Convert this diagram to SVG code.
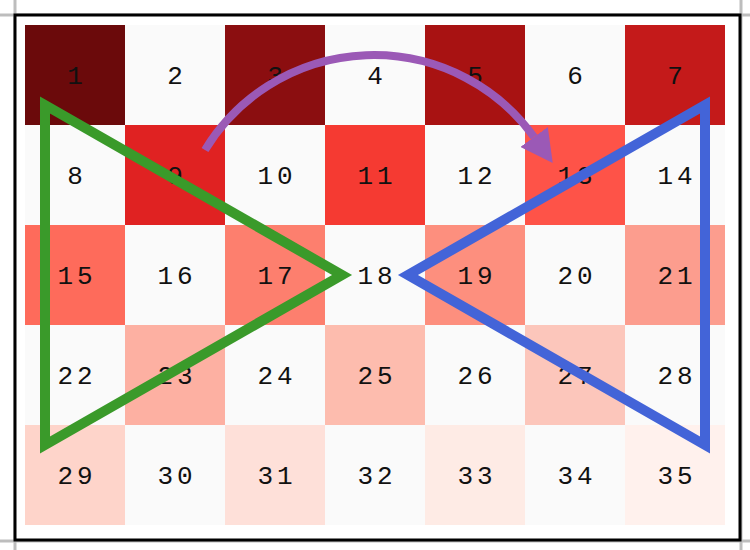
<svg xmlns="http://www.w3.org/2000/svg" width="750" height="550" viewBox="0 0 750 550">
<style>
.w{fill:#fafafa}
.t{font-family:"Liberation Mono","DejaVu Sans Mono",monospace;font-size:26px;letter-spacing:4px;fill:#111;text-anchor:middle}
.tri{fill:none;stroke-width:10;stroke-linejoin:miter;stroke-miterlimit:10}
.g{stroke:#bdbdbd;stroke-width:3}
</style>
<defs>
<marker id="ah" viewBox="0 0 32 34" refX="0" refY="17" markerWidth="32" markerHeight="34" markerUnits="userSpaceOnUse" orient="auto">
<path d="M0,0 L32,17 L0,34 Z" fill="#9b59b6"/>
</marker>
</defs>
<rect x="0" y="0" width="750" height="550" fill="#ffffff"/>
<g id="page-lines">
<line class="g" x1="15" y1="0" x2="15" y2="550"/>
<line class="g" x1="741" y1="0" x2="741" y2="550"/>
<line class="g" x1="0" y1="15" x2="750" y2="15"/>
<line class="g" x1="0" y1="541" x2="750" y2="541"/>
</g>
<rect id="frame" x="15" y="15" width="725" height="525" fill="#ffffff" stroke="#000" stroke-width="3"/>
<g id="cells">
<g id="c1"><rect x="25" y="25" width="100" height="100" fill="#6b0a0b"/><text class="t" x="77" y="84">1</text></g>
<g id="c2"><rect class="w" x="125" y="25" width="100" height="100"/><text class="t" x="177" y="84">2</text></g>
<g id="c3"><rect x="225" y="25" width="100" height="100" fill="#8b0e10"/><text class="t" x="277" y="84">3</text></g>
<g id="c4"><rect class="w" x="325" y="25" width="100" height="100"/><text class="t" x="377" y="84">4</text></g>
<g id="c5"><rect x="425" y="25" width="100" height="100" fill="#a81212"/><text class="t" x="477" y="84">5</text></g>
<g id="c6"><rect class="w" x="525" y="25" width="100" height="100"/><text class="t" x="577" y="84">6</text></g>
<g id="c7"><rect x="625" y="25" width="100" height="100" fill="#c41a1a"/><text class="t" x="677" y="84">7</text></g>

<g id="c8"><rect class="w" x="25" y="125" width="100" height="100"/><text class="t" x="77" y="184">8</text></g>
<g id="c9"><rect x="125" y="125" width="100" height="100" fill="#e02222"/><text class="t" x="177" y="184">9</text></g>
<g id="c10"><rect class="w" x="225" y="125" width="100" height="100"/><text class="t" x="277" y="184">10</text></g>
<g id="c11"><rect x="325" y="125" width="100" height="100" fill="#f53a32"/><text class="t" x="377" y="184">11</text></g>
<g id="c12"><rect class="w" x="425" y="125" width="100" height="100"/><text class="t" x="477" y="184">12</text></g>
<g id="c13"><rect x="525" y="125" width="100" height="100" fill="#fe5348"/><text class="t" x="577" y="184">13</text></g>
<g id="c14"><rect class="w" x="625" y="125" width="100" height="100"/><text class="t" x="677" y="184">14</text></g>

<g id="c15"><rect x="25" y="225" width="100" height="100" fill="#fe6b5b"/><text class="t" x="77" y="284">15</text></g>
<g id="c16"><rect class="w" x="125" y="225" width="100" height="100"/><text class="t" x="177" y="284">16</text></g>
<g id="c17"><rect x="225" y="225" width="100" height="100" fill="#fd7f6e"/><text class="t" x="277" y="284">17</text></g>
<g id="c18"><rect class="w" x="325" y="225" width="100" height="100"/><text class="t" x="377" y="284">18</text></g>
<g id="c19"><rect x="425" y="225" width="100" height="100" fill="#fd8f7e"/><text class="t" x="477" y="284">19</text></g>
<g id="c20"><rect class="w" x="525" y="225" width="100" height="100"/><text class="t" x="577" y="284">20</text></g>
<g id="c21"><rect x="625" y="225" width="100" height="100" fill="#fc9d8e"/><text class="t" x="677" y="284">21</text></g>

<g id="c22"><rect class="w" x="25" y="325" width="100" height="100"/><text class="t" x="77" y="384">22</text></g>
<g id="c23"><rect x="125" y="325" width="100" height="100" fill="#fdb0a2"/><text class="t" x="177" y="384">23</text></g>
<g id="c24"><rect class="w" x="225" y="325" width="100" height="100"/><text class="t" x="277" y="384">24</text></g>
<g id="c25"><rect x="325" y="325" width="100" height="100" fill="#fdbcae"/><text class="t" x="377" y="384">25</text></g>
<g id="c26"><rect class="w" x="425" y="325" width="100" height="100"/><text class="t" x="477" y="384">26</text></g>
<g id="c27"><rect x="525" y="325" width="100" height="100" fill="#fcc6bb"/><text class="t" x="577" y="384">27</text></g>
<g id="c28"><rect class="w" x="625" y="325" width="100" height="100"/><text class="t" x="677" y="384">28</text></g>

<g id="c29"><rect x="25" y="425" width="100" height="100" fill="#fed4ca"/><text class="t" x="77" y="484">29</text></g>
<g id="c30"><rect class="w" x="125" y="425" width="100" height="100"/><text class="t" x="177" y="484">30</text></g>
<g id="c31"><rect x="225" y="425" width="100" height="100" fill="#fee0d9"/><text class="t" x="277" y="484">31</text></g>
<g id="c32"><rect class="w" x="325" y="425" width="100" height="100"/><text class="t" x="377" y="484">32</text></g>
<g id="c33"><rect x="425" y="425" width="100" height="100" fill="#feebe5"/><text class="t" x="477" y="484">33</text></g>
<g id="c34"><rect class="w" x="525" y="425" width="100" height="100"/><text class="t" x="577" y="484">34</text></g>
<g id="c35"><rect x="625" y="425" width="100" height="100" fill="#fff1ed"/><text class="t" x="677" y="484">35</text></g>
</g>
<g id="connectors">
<polygon id="green-tri" class="tri" stroke="#3a9a2a" points="45,105 342,275 45,445"/>
<polygon id="blue-tri" class="tri" stroke="#4364d8" points="705,105 408,275 705,445"/>
<path id="arc" d="M 205 150 A 197.6 197.6 0 0 1 534 137" fill="none" stroke="#9b59b6" stroke-width="8" marker-end="url(#ah)"/>
</g>
</svg>
